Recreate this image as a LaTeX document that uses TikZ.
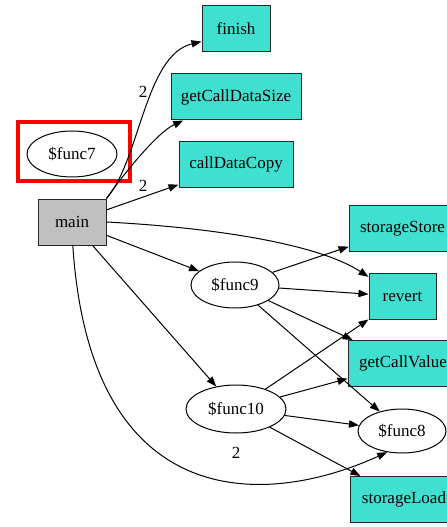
\documentclass[tikz,border=0pt]{standalone}
\usepackage{fontspec}
\setmainfont{Liberation Serif}
\usetikzlibrary{arrows.meta,shapes.geometric}
\definecolor{turq}{HTML}{40E0D0}
\definecolor{mgray}{HTML}{C0C0C0}
\begin{document}
\begin{tikzpicture}[x=0.75pt,y=0.75pt,
  every node/.style={font=\fontsize{12.75}{15}\selectfont},
  fbox/.style={draw=black!85, fill=turq, line width=0.75pt, minimum height=34.5pt, inner sep=0pt},
  mbox/.style={draw=black!85, fill=mgray, line width=0.75pt, minimum height=34.5pt, minimum width=51pt, inner sep=0pt},
  fell/.style={draw=black, ellipse, line width=0.75pt, inner sep=0pt},
  edge/.style={-{Triangle[length=7.5pt,width=5.5pt]}, line width=0.75pt},
  lbl/.style={inner sep=0pt}]
\useasboundingbox (0,0) rectangle (446,-527);
% nodes
\node[fbox, minimum width=51pt] (finish) at (236,-29) {finish};
\node[fbox, minimum width=97.5pt] (gcds) at (236,-97) {getCallDataSize};
\node[fbox, minimum width=85.5pt] (cdc) at (236,-164.5) {callDataCopy};
\node[fell, minimum width=67.5pt, minimum height=34.5pt] (f7) at (72,-154) {\$func7};
\node[draw=red, line width=3pt, minimum width=84pt, minimum height=44.25pt, inner sep=0pt] (hl) at (74,-151.5) {};
\node[mbox] (main) at (72,-222) {main};
\node[fbox, minimum width=80pt] (ss) at (402.5,-228.5) {storageStore};
\node[fbox, minimum width=50.25pt] (rev) at (402.5,-296.5) {revert};
\node[fbox, minimum width=82.5pt] (gcv) at (403,-363.5) {getCallValue};
\node[fell, minimum width=66pt, minimum height=34.5pt] (f9) at (235,-285) {\$func9};
\node[fell, minimum width=75pt, minimum height=36pt] (f10) at (236,-409) {\$func10};
\node[fell, minimum width=66pt, minimum height=33pt] (f8) at (402,-431) {\$func8};
\node[fbox, minimum width=81pt] (sl) at (404,-499.5) {storageLoad};
% edges from main
\draw[edge] (main.north east) .. controls (140,-160) and (145,-55) .. (finish.200);
\draw[edge] (main.north east) .. controls (125,-172) and (158,-132) .. (gcds.204);
\draw[edge] (main) -- (cdc);
\draw[edge] (main.east) .. controls (220,-228) and (320,-245) .. (rev.150);
\draw[edge] (main) -- (f9);
\draw[edge] (main) -- (f10);
\draw[edge] (main.-88) .. controls (90,-510) and (260,-510) .. (f8.235);
% edges from func9
\draw[edge] (f9) -- (ss);
\draw[edge] (f9) -- (rev);
\draw[edge] (f9) -- (gcv);
\draw[edge] (f9) -- (f8);
% edges from func10
\draw[edge] (f10) -- (rev);
\draw[edge] (f10) -- (gcv);
\draw[edge] (f10) -- (f8);
\draw[edge] (f10) -- (sl);
% labels
\node[lbl] (l1) at (143,-92) {2};
\node[lbl] (l2) at (143,-186) {2};
\node[lbl] (l3) at (236,-453) {2};
\end{tikzpicture}
\end{document}
